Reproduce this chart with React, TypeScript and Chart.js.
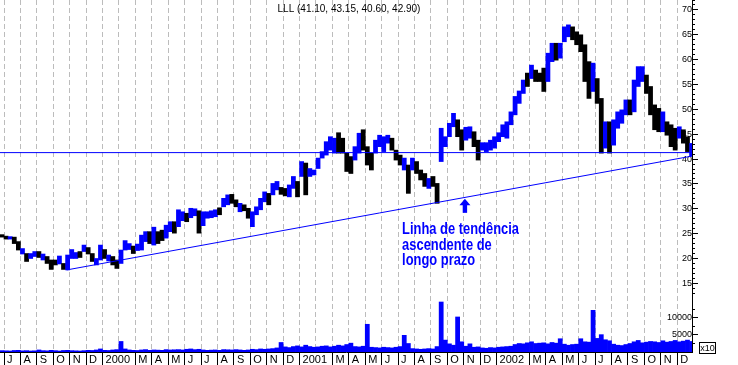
import React, { useEffect, useRef } from 'react';
import { Chart, registerables } from 'chart.js';

Chart.register(...registerables);

// ---------------- data ----------------
const TITLE = 'LLL (41.10, 43.15, 40.60, 42.90)';

// one label per month, Jul 1999 .. Dec 2002 ('' = no label / no tick mark)
const MONTH_LABELS = [
  'J', 'A', 'S', 'O', 'N', 'D',
  '2000', '', 'M', 'A', 'M', 'J', 'J', 'A', 'S', 'O', 'N', 'D',
  '2001', '', 'M', 'A', 'M', 'J', 'J', 'A', 'S', 'O', 'N', 'D',
  '2002', '', 'M', 'A', 'M', 'J', 'J', 'A', 'S', 'O', 'N', 'D',
];

// bars: one per quarter month, starting a quarter month before Jul 1999
const FIRST_PERIOD = -0.25; // months since 1 Jul 1999
const PERIOD = 0.25; // months per bar

const LOWS = [
  24.3, 23.9, 23.9, 23.0, 21.7, 20.9, 19.4, 20.0, 20.4, 20.2, 19.7, 19.0, 17.8, 18.7, 18.9, 17.8,
  17.7, 20.0, 20.0, 20.2, 21.4, 20.9, 19.4, 18.7, 19.7, 20.0, 19.5, 18.7, 18.0, 19.0, 21.7, 21.8,
  21.0, 21.6, 21.7, 23.4, 23.0, 22.7, 23.0, 23.6, 24.1, 25.4, 25.1, 26.4, 27.6, 27.4, 28.2, 28.6,
  25.1, 26.6, 28.1, 28.2, 28.4, 28.8, 30.4, 30.8, 31.1, 30.4, 29.4, 29.6, 28.1, 26.4, 28.8, 29.8,
  31.4, 30.8, 32.8, 33.8, 32.9, 32.6, 32.4, 34.1, 32.4, 36.5, 32.8, 36.5, 36.8, 38.1, 40.2, 40.8,
  41.8, 41.2, 41.2, 41.2, 37.5, 37.1, 39.8, 41.2, 41.8, 38.8, 37.8, 41.2, 42.5, 41.5, 43.2, 41.8,
  39.8, 38.8, 37.8, 33.1, 37.8, 37.1, 35.8, 34.5, 34.1, 34.5, 31.1, 39.5, 42.5, 44.5, 46.5, 44.5,
  41.8, 43.8, 44.2, 42.5, 39.8, 41.8, 41.5, 41.8, 42.2, 43.5, 44.5, 44.2, 46.9, 48.9, 51.2, 53.2,
  54.6, 56.2, 55.6, 55.6, 53.6, 55.6, 59.6, 59.9, 60.3, 63.6, 64.6, 64.0, 63.0, 61.6, 55.6, 52.2,
  53.6, 51.2, 41.2, 42.2, 41.2, 42.8, 46.2, 47.2, 48.9, 48.9, 49.5, 54.6, 55.6, 53.2, 48.9, 45.9,
  45.5, 45.5, 44.8, 42.5, 41.8, 44.2, 43.2, 41.5, 40.6,
];

const HIGHS = [
  24.8, 24.5, 24.4, 24.3, 23.4, 22.0, 21.0, 21.0, 21.4, 21.4, 20.9, 20.4, 19.7, 19.7, 20.5, 19.0,
  20.7, 21.8, 21.2, 21.4, 22.7, 22.2, 21.0, 20.0, 22.7, 21.8, 20.7, 20.4, 19.7, 21.7, 23.6, 23.0,
  22.5, 22.9, 24.7, 25.4, 25.4, 26.3, 25.4, 25.7, 26.7, 27.4, 27.4, 29.8, 29.4, 29.1, 30.1, 30.0,
  29.6, 29.4, 29.4, 29.6, 29.8, 30.2, 32.1, 32.8, 32.9, 31.8, 31.1, 30.8, 30.1, 29.4, 30.4, 32.1,
  33.4, 33.1, 35.1, 35.5, 34.3, 34.1, 34.8, 36.5, 35.5, 39.5, 39.2, 38.1, 37.8, 40.2, 41.5, 43.5,
  44.5, 44.2, 45.3, 44.2, 41.2, 40.5, 42.5, 45.2, 45.9, 42.5, 41.2, 43.8, 44.8, 44.5, 44.8, 44.2,
  41.8, 40.8, 40.2, 38.8, 40.2, 39.5, 37.8, 37.1, 36.1, 36.5, 35.1, 46.2, 44.5, 47.2, 49.2, 47.9,
  45.9, 46.4, 46.5, 45.5, 43.8, 43.3, 43.3, 43.8, 44.5, 45.3, 46.9, 47.5, 49.5, 52.6, 53.7, 55.9,
  57.3, 58.9, 57.9, 57.3, 58.3, 61.3, 63.3, 63.3, 63.3, 66.6, 67.0, 66.6, 65.6, 65.0, 63.0, 59.6,
  59.3, 56.2, 52.2, 47.5, 47.5, 47.9, 49.5, 49.9, 51.9, 51.9, 55.9, 58.6, 58.6, 56.9, 54.6, 50.9,
  50.2, 49.5, 47.5, 46.9, 46.2, 46.5, 45.9, 44.5, 43.15,
];

// 1 = rising period (blue), -1 = falling period (black)
const DIRS = [
  -1, -1, 1, -1, -1, 1, -1, 1, 1, -1, 1, -1, -1, -1, 1, -1,
  1, 1, 1, -1, 1, -1, -1, 1, 1, -1, 1, -1, -1, 1, 1, 1,
  -1, 1, 1, 1, -1, 1, -1, -1, 1, 1, -1, 1, 1, -1, 1, 1,
  -1, 1, 1, 1, 1, -1, 1, 1, -1, -1, 1, -1, -1, 1, 1, 1,
  1, -1, 1, 1, -1, -1, 1, 1, -1, 1, -1, 1, 1, 1, 1, 1,
  1, 1, -1, -1, -1, -1, 1, 1, -1, -1, -1, 1, 1, 1, 1, -1,
  -1, -1, 1, -1, 1, -1, -1, -1, 1, -1, -1, 1, 1, 1, 1, -1,
  -1, 1, 1, -1, -1, 1, 1, 1, 1, 1, 1, 1, 1, 1, 1, 1,
  -1, 1, -1, -1, -1, 1, 1, -1, 1, 1, 1, -1, -1, -1, -1, -1,
  1, -1, -1, 1, -1, 1, 1, 1, 1, -1, 1, 1, 1, -1, -1, -1,
  -1, 1, -1, -1, -1, 1, -1, -1, 1,
];

// volume in units of 10 shares
const VOLUME = [
  400, 350, 300, 450, 500, 350, 400, 300, 350, 600, 400, 350, 500, 400, 300, 450,
  500, 400, 350, 300, 400, 500, 450, 600, 900, 500, 450, 600, 700, 3100, 900, 600,
  500, 450, 600, 700, 500, 600, 550, 500, 700, 600, 650, 700, 600, 800, 900, 700,
  800, 600, 500, 550, 600, 500, 700, 650, 600, 700, 600, 500, 600, 800, 700, 900,
  800, 900, 1000, 1200, 2800, 1500, 1300, 1600, 1800, 1500, 2000, 1600, 1400, 1500, 1700, 1800,
  1500, 1700, 2000, 1800, 2200, 2600, 1600, 1500, 1700, 8150, 1400, 1300, 1200, 1400, 1300, 1200,
  1400, 1600, 4900, 2500, 1000, 900, 800, 900, 1000, 900, 1600, 14700, 3500, 2400, 2000, 10300,
  3000, 1700, 2400, 1400, 1500, 1200, 1100, 1300, 1200, 1400, 1500, 1600, 1700, 2200, 2500, 2400,
  2700, 3000, 2500, 2600, 2700, 2400, 2800, 2600, 3900, 2300, 2000, 2200, 2300, 3900, 3000, 2900,
  12250, 4000, 5100, 3600, 3300, 2300, 2000, 1900, 2200, 2500, 3000, 3400, 2700, 2900, 3100, 3000,
  2800, 3300, 2900, 3100, 3400, 3000, 3200, 3500, 3100,
];

const PRICE_TICKS = [15, 20, 25, 30, 35, 40, 45, 50, 55, 60, 65, 70];
const PRICE_MINOR_FROM = 13;
const PRICE_MINOR_TO = 72;
const VOLUME_TICKS = [5000, 10000];
const VOLUME_MINOR_TICKS = [2500, 7500, 12500];

const SUPPORT_LEVEL = 41.3; // horizontal line
const TREND_START = { month: 3.82, price: 17.7 };
const TREND_END = { month: 41.9, price: 40.6 };

const NOTE_LINES = ['Linha de tendência', 'ascendente de', 'longo prazo'];
const NOTE_ARROW_TIP = { month: 28.07, price: 32.0 };

// axis ranges
const X_MIN = -0.244;
const X_MAX = 41.9;
const PRICE_MIN = 1.19;
const PRICE_MAX = 72.0;
const VOLUME_MAX = 103500;

// ---------------- styles ----------------
const BLUE = '#0000ff';
const BLACK = '#000000';
const GRID = '#bcbcbc';
const FONT = '"Liberation Sans", Arial, sans-serif';

const periodCenter = (i: number) => FIRST_PERIOD + (i + 0.5) * PERIOD;

// right-hand axes take no layout width; their labels may draw outside their box
const zeroWidth = (s: any) => {
  s.width = 0;
  s.paddingTop = 0;
  s.paddingBottom = 0;
  s.paddingLeft = 0;
  s.paddingRight = 0;
  s._computeLabelArea = () => undefined;
};

const overlayPlugin = {
  id: 'overlay',
  afterDraw(chart: any) {
    const { ctx, chartArea, scales } = chart;
    const x = scales.x;
    const y = scales.y;
    ctx.save();
    // title
    ctx.font = `10px ${FONT}`;
    ctx.fillStyle = '#000';
    ctx.textAlign = 'center';
    ctx.textBaseline = 'middle';
    ctx.fillText(TITLE, (chartArea.left + chartArea.right) / 2 + 3, 9);

    // arrow
    const ax = x.getPixelForValue(NOTE_ARROW_TIP.month);
    const ay = y.getPixelForValue(NOTE_ARROW_TIP.price);
    ctx.fillStyle = BLUE;
    ctx.beginPath();
    ctx.moveTo(ax, ay);
    ctx.lineTo(ax + 5.5, ay + 6.5);
    ctx.lineTo(ax - 5.5, ay + 6.5);
    ctx.closePath();
    ctx.fill();
    ctx.fillRect(ax - 2.2, ay + 6, 4.4, 8);

    // note text (condensed bold)
    ctx.font = `bold 15px ${FONT}`;
    ctx.textAlign = 'left';
    ctx.textBaseline = 'alphabetic';
    NOTE_LINES.forEach((t, i) => {
      ctx.save();
      ctx.translate(ax - 62.8, ay + 35.2 + i * 15.7);
      ctx.scale(0.86, 1.05);
      ctx.fillText(t, 0, 0);
      ctx.restore();
    });

    // "x10" volume unit box
    const bx = chartArea.right + 7;
    const by = chartArea.bottom - 10;
    ctx.strokeStyle = '#000';
    ctx.lineWidth = 1;
    ctx.strokeRect(bx + 0.5, by + 0.5, 16, 11);
    ctx.fillStyle = '#000';
    ctx.font = `9px ${FONT}`;
    ctx.textAlign = 'center';
    ctx.textBaseline = 'middle';
    ctx.fillText('x10', bx + 8.5, by + 6.5);
    ctx.restore();
  },
};

export default function App() {
  const ref = useRef<HTMLCanvasElement | null>(null);

  useEffect(() => {
    document.body.style.margin = '0';
    const canvas = ref.current;
    if (!canvas) return;

    const priceData = LOWS.map((lo, i) => ({ x: periodCenter(i), y: [lo, HIGHS[i]] }));
    const volumeData = VOLUME.map((v, i) => ({ x: periodCenter(i), y: v }));
    const minorPrice: number[] = [];
    for (let v = PRICE_MINOR_FROM; v <= PRICE_MINOR_TO; v++) minorPrice.push(v);

    const chart = new Chart(canvas, {
      type: 'bar',
      data: {
        datasets: [
          {
            type: 'line',
            label: 'support',
            data: [
              { x: X_MIN, y: SUPPORT_LEVEL },
              { x: X_MAX, y: SUPPORT_LEVEL },
            ],
            borderColor: BLUE,
            borderWidth: 1,
            pointRadius: 0,
            fill: false,
            yAxisID: 'y',
            order: 1,
          } as any,
          {
            type: 'line',
            label: 'trend',
            data: [
              { x: TREND_START.month, y: TREND_START.price },
              { x: TREND_END.month, y: TREND_END.price },
            ],
            borderColor: BLUE,
            borderWidth: 1,
            pointRadius: 0,
            fill: false,
            yAxisID: 'y',
            order: 1,
          } as any,
          {
            type: 'bar',
            label: 'LLL',
            data: priceData as any,
            backgroundColor: DIRS.map((d) => (d > 0 ? BLUE : BLACK)),
            borderWidth: 0,
            barPercentage: 1,
            categoryPercentage: 1,
            grouped: false,
            yAxisID: 'y',
            order: 2,
          } as any,
          {
            type: 'bar',
            label: 'Volume',
            data: volumeData as any,
            backgroundColor: BLUE,
            borderWidth: 0,
            barPercentage: 1,
            categoryPercentage: 1,
            grouped: false,
            yAxisID: 'yVol',
            order: 3,
          } as any,
        ],
      },
      options: {
        animation: false,
        responsive: false,
        devicePixelRatio: 1,
        layout: { padding: { left: 0, top: 0, right: 46, bottom: 0 } },
        plugins: { legend: { display: false }, tooltip: { enabled: false }, title: { display: false } },
        scales: {
          x: {
            type: 'linear',
            position: 'bottom',
            min: X_MIN,
            max: X_MAX,
            offset: false,
            afterBuildTicks: (s: any) => {
              s.ticks = MONTH_LABELS.map((_, i) => ({ value: i }));
            },
            afterFit: (s: any) => {
              s.height = 13;
              s.paddingLeft = 0;
              s.paddingRight = 0;
            },
            grid: {
              offset: false,
              color: GRID,
              lineWidth: 1,
              drawOnChartArea: true,
              drawTicks: true,
              tickLength: 13,
              tickColor: (c: any) => (MONTH_LABELS[c.index] === '' ? 'rgba(0,0,0,0)' : BLACK),
              tickBorderDash: [],
              tickWidth: 1,
            },
            border: { display: true, color: BLACK, width: 1, dash: [5, 3] },
            ticks: {
              autoSkip: false,
              maxRotation: 0,
              minRotation: 0,
              align: 'start',
              labelOffset: 3,
              padding: -12,
              color: BLACK,
              font: { family: FONT, size: 11 },
              callback: (_v: any, i: number) => MONTH_LABELS[i],
            },
          } as any,
          y: {
            type: 'linear',
            position: 'right',
            min: PRICE_MIN,
            max: PRICE_MAX,
            afterBuildTicks: (s: any) => {
              s.ticks = PRICE_TICKS.map((v) => ({ value: v }));
            },
            afterFit: zeroWidth,
            grid: { drawOnChartArea: false, drawTicks: true, tickLength: 6, tickColor: BLACK },
            border: { display: true, color: BLACK, width: 1 },
            ticks: {
              crossAlign: 'far',
              padding: 27,
              color: BLACK,
              font: { family: FONT, size: 9 },
              callback: (v: any) => String(v),
            },
          } as any,
          yMinor: {
            type: 'linear',
            position: 'right',
            min: PRICE_MIN,
            max: PRICE_MAX,
            afterBuildTicks: (s: any) => {
              s.ticks = minorPrice.map((v) => ({ value: v }));
            },
            afterFit: zeroWidth,
            grid: { drawOnChartArea: false, drawTicks: true, tickLength: 3, tickColor: BLACK },
            border: { display: false },
            ticks: { display: false },
          } as any,
          yVol: {
            type: 'linear',
            position: 'right',
            min: 0,
            max: VOLUME_MAX,
            afterBuildTicks: (s: any) => {
              s.ticks = VOLUME_TICKS.map((v) => ({ value: v }));
            },
            afterFit: zeroWidth,
            grid: { drawOnChartArea: false, drawTicks: true, tickLength: 6, tickColor: BLACK },
            border: { display: false },
            ticks: {
              crossAlign: 'far',
              padding: 12,
              color: BLACK,
              font: { family: FONT, size: 9 },
              callback: (v: any) => String(v),
            },
          } as any,
          yVolMinor: {
            type: 'linear',
            position: 'right',
            min: 0,
            max: VOLUME_MAX,
            afterBuildTicks: (s: any) => {
              s.ticks = VOLUME_MINOR_TICKS.map((v) => ({ value: v }));
            },
            afterFit: zeroWidth,
            grid: { drawOnChartArea: false, drawTicks: true, tickLength: 3, tickColor: BLACK },
            border: { display: false },
            ticks: { display: false },
          } as any,
        },
      } as any,
      plugins: [overlayPlugin],
    });

    return () => chart.destroy();
  }, []);

  return (
    <div style={{ width: 738, height: 365, background: '#ffffff' }}>
      <canvas ref={ref} width={738} height={365} style={{ display: 'block' }} />
    </div>
  );
}
